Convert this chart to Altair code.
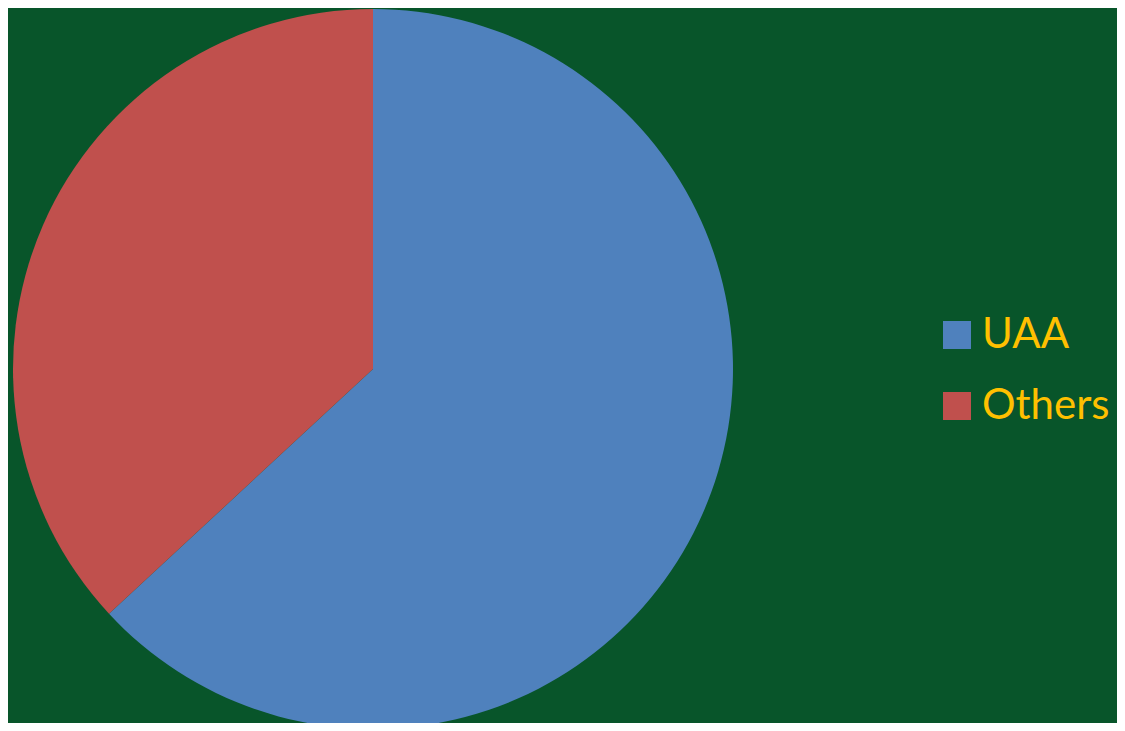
import altair as alt
import pandas as pd

categories = ["UAA", "Others"]
shares = [63.1, 36.9]
order_idx = [0, 1]
colors = ["#4F81BD", "#C0504D"]

df = pd.DataFrame({"category": categories, "share": shares, "idx": order_idx})

chart = alt.Chart(df).mark_arc(radius=360, stroke=None, strokeWidth=0).encode(
    theta=alt.Theta("share:Q", stack=True),
    color=alt.Color(
        "category:N",
        scale=alt.Scale(domain=categories, range=colors),
        legend=alt.Legend(
            title=None,
            orient="none",
            legendX=928,
            legendY=306,
            symbolType="square",
            symbolSize=784,
            symbolStrokeWidth=0,
            labelColor="#FFC000",
            labelFont="Lato",
            labelFontSize=42,
            labelOffset=4,
            rowPadding=29,
            padding=0,
        ),
    ),
    order=alt.Order("idx:Q"),
    x=alt.value(365),
    y=alt.value(361),
).properties(
    width=1109,
    height=715,
    autosize=alt.AutoSizeParams(type="none"),
    padding=0,
    background="#08552A",
).configure_view(stroke=None)

chart.save("out.html", embed_options={"renderer": "svg", "actions": False})
